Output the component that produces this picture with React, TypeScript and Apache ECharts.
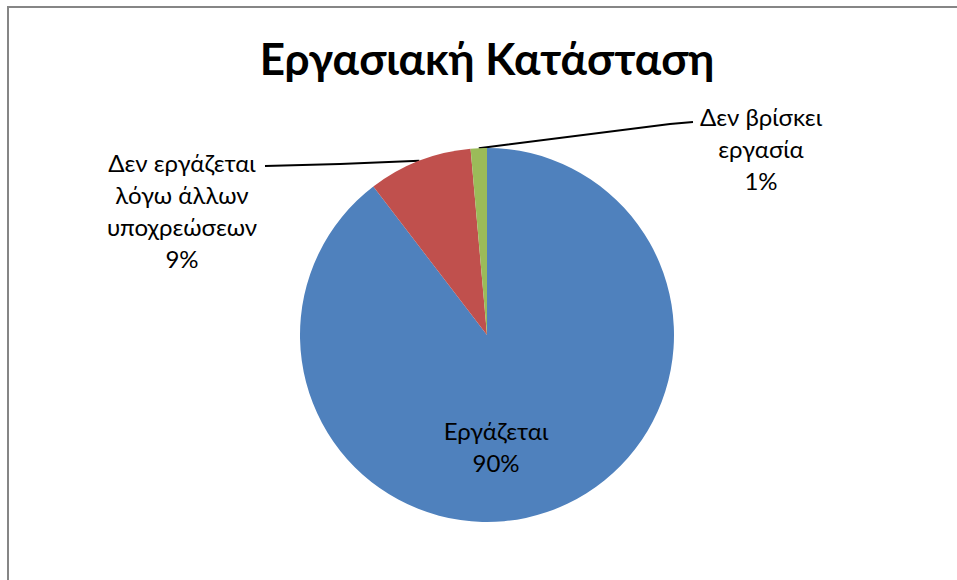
import React, { useEffect, useRef } from "react";
import * as echarts from "echarts";

const categories = ["Εργάζεται", "Δεν εργάζεται λόγω άλλων υποχρεώσεων", "Δεν βρίσκει εργασία"];
const labelTexts = ["Εργάζεται", "Δεν εργάζεται\nλόγω άλλων\nυποχρεώσεων", "Δεν βρίσκει\nεργασία"];
const values = [89.6, 9.0, 1.4];
const colors = ["#4F81BD", "#C0504D", "#9BBB59"];
const titleText = "Εργασιακή Κατάσταση";

const FONT = "Lato, 'Noto Sans', sans-serif";

export default function App() {
  const ref = useRef<HTMLDivElement>(null);
  useEffect(() => {
    if (!ref.current) return;
    const chart = echarts.init(ref.current, null, { renderer: "svg" });
    const option: any = {
      animation: false,
      backgroundColor: "#ffffff",
      graphic: [
        {
          type: "rect",
          shape: { x: 8, y: 7, width: 1400, height: 1400 },
          style: { fill: "none", stroke: "#868686", lineWidth: 2 },
          silent: true,
        },
        {
          type: "text",
          x: 487,
          y: 58,
          style: {
            text: titleText,
            fontFamily: FONT,
            fontWeight: "bold",
            fontSize: 44,
            fill: "#000",
            textAlign: "center",
            textVerticalAlign: "middle",
          },
        },
      ],
      series: [
        {
          type: "pie",
          center: [487, 335],
          radius: 187,
          startAngle: 90,
          clockwise: true,
          avoidLabelOverlap: false,
          itemStyle: { borderWidth: 0 },
          label: {
            fontFamily: FONT,
            fontSize: 24,
            lineHeight: 32,
            color: "#000",
            align: "center",
            formatter: (p: any) => labelTexts[p.dataIndex] + "\n" + Math.round(p.percent) + "%",
          },
          labelLine: {
            show: true,
            lineStyle: { color: "#000", width: 2 },
          },
          labelLayout: (params: any) => {
            const i = params.dataIndex;
            const pts = params.labelLinePoints;
            const p0 = pts ? pts[0] : null;
            if (i === 0) {
              return { x: 496, y: 446, align: "center", verticalAlign: "middle" };
            }
            if (i === 1) {
              return {
                x: 182,
                y: 210,
                align: "center",
                verticalAlign: "middle",
                labelLinePoints: p0 ? [p0, [340, 164], [265, 166]] : undefined,
              };
            }
            return {
              x: 761,
              y: 148,
              align: "center",
              verticalAlign: "middle",
              labelLinePoints: p0 ? [p0, [670, 124], [693, 122]] : undefined,
            };
          },
          data: categories.map((name, i) => ({
            name,
            value: values[i],
            itemStyle: { color: colors[i] },
            label: { position: i === 0 ? "inside" : "outside" },
            labelLine: { show: i !== 0 },
          })),
        },
      ],
    };
    chart.setOption(option);
    return () => chart.dispose();
  }, []);
  return (
    <div
      ref={ref}
      style={{ position: "fixed", left: 0, top: 0, width: 957, height: 580 }}
    />
  );
}
